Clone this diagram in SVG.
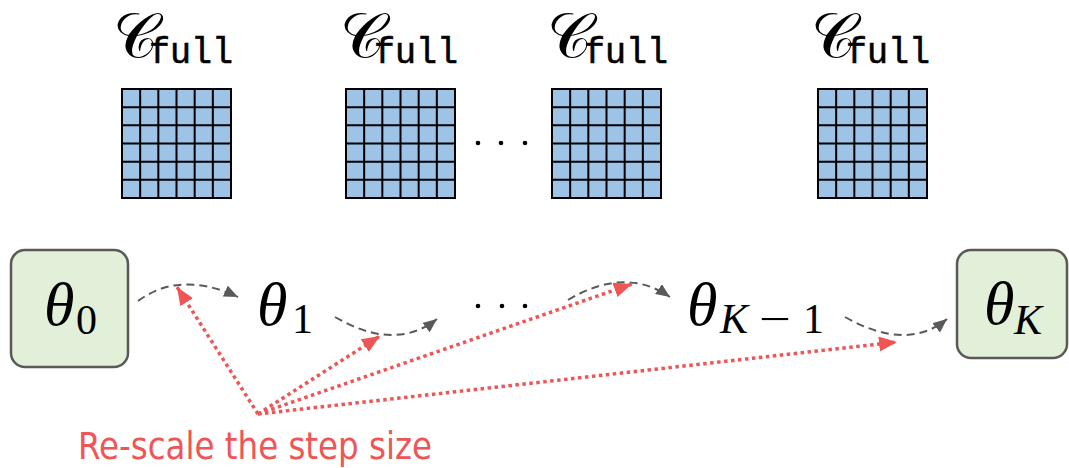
<svg xmlns="http://www.w3.org/2000/svg" xmlns:xlink="http://www.w3.org/1999/xlink" width="1069" height="468" viewBox="0 0 1069 468">
<style>
text{font-weight:normal}
.cal{font-family:"DejaVu Serif","Liberation Serif",serif;font-size:62px;fill:#000}
.mono{font-family:"Liberation Mono","Courier New",monospace;font-size:36px;fill:#000;stroke:#000;stroke-width:0.6}
.th{font-family:"Liberation Serif","Times New Roman",serif;font-style:italic;font-size:62px;fill:#000}
.sub{font-family:"Liberation Serif","Times New Roman",serif;font-style:normal;font-size:42px;fill:#000}
.subi{font-family:"Liberation Serif","Times New Roman",serif;font-style:italic;font-size:42px;fill:#000}
.box{fill:#e2efd9;stroke:#595959;stroke-width:2.5}
.gl{stroke:#000;stroke-width:2}
.dash{fill:none;stroke:#595959;stroke-width:2;stroke-dasharray:8 5}
.dot{fill:none;stroke:#ef5555;stroke-width:3.5;stroke-dasharray:3.5 3.5}
.lbl{font-family:"DejaVu Sans","Liberation Sans",sans-serif;font-size:37px;fill:#ef5555}
</style>
<defs>
<marker id="ag" markerUnits="userSpaceOnUse" markerWidth="16" markerHeight="14" refX="14" refY="6" orient="auto"><path d="M0,0 L14,6 L0,12 z" fill="#595959"/></marker>
<marker id="ar" markerUnits="userSpaceOnUse" markerWidth="20" markerHeight="16" refX="18" refY="7.5" orient="auto"><path d="M0,0 L18,7.5 L0,15 z" fill="#ef5555"/></marker>
<g id="grid">
<rect x="0" y="0" width="109" height="109" fill="#9dc3e6" stroke="#000" stroke-width="2"/>
<path class="gl" d="M18.17,0V109M36.33,0V109M54.5,0V109M72.67,0V109M90.83,0V109M0,18.17H109M0,36.33H109M0,54.5H109M0,72.67H109M0,90.83H109"/>
</g>
</defs>
<rect width="1069" height="468" fill="#fff"/>
<g id="cfull1"><text class="cal" x="113" y="57">𝒞</text><text class="mono" x="149" y="63" textLength="84" lengthAdjust="spacingAndGlyphs">full</text><use xlink:href="#grid" x="122" y="89"/></g>
<g id="cfull2"><text class="cal" x="340" y="57">𝒞</text><text class="mono" x="374" y="63" textLength="84" lengthAdjust="spacingAndGlyphs">full</text><use xlink:href="#grid" x="346" y="89"/></g>
<g id="cfull3"><text class="cal" x="547" y="57">𝒞</text><text class="mono" x="584" y="63" textLength="84" lengthAdjust="spacingAndGlyphs">full</text><use xlink:href="#grid" x="552" y="89"/></g>
<g id="cfull4"><text class="cal" x="811" y="57">𝒞</text><text class="mono" x="846" y="63" textLength="84" lengthAdjust="spacingAndGlyphs">full</text><use xlink:href="#grid" x="818" y="89"/></g>
<g id="dots-top"><circle cx="478" cy="143" r="2.3"/><circle cx="501" cy="143" r="2.3"/><circle cx="525" cy="143" r="2.3"/></g>
<g id="theta0"><rect class="box" x="11" y="250" width="117" height="117" rx="14"/><text class="th" x="44" y="325">θ</text><text class="sub" x="76" y="334">0</text></g>
<g id="theta1"><text class="th" x="257" y="325">θ</text><text class="sub" x="292" y="333">1</text></g>
<g id="dots-bottom"><circle cx="478" cy="306" r="2.3"/><circle cx="502" cy="306" r="2.3"/><circle cx="525" cy="306" r="2.3"/></g>
<g id="thetaK1"><text class="th" x="687" y="325">θ</text><text class="subi" x="720" y="333">K</text><text class="sub" x="759" y="333" textLength="32" lengthAdjust="spacingAndGlyphs">−</text><text class="sub" x="803" y="333">1</text></g>
<g id="thetaK"><rect class="box" x="957" y="250" width="110" height="108" rx="14"/><text class="th" x="984" y="324">θ</text><text class="subi" x="1014" y="334">K</text></g>
<g id="connectors">
<path class="dash" d="M138,301 Q180,270 238,297" marker-end="url(#ag)"/>
<path class="dash" d="M335,317 Q395,352 437,319" marker-end="url(#ag)"/>
<path class="dash" d="M568,300 Q625,266 670,297" marker-end="url(#ag)"/>
<path class="dash" d="M845,317 Q907,352 947,319" marker-end="url(#ag)"/>
<path class="dot" d="M258,414 L177,287" marker-end="url(#ar)"/>
<path class="dot" d="M258,414 L380,336" marker-end="url(#ar)"/>
<path class="dot" d="M258,414 L632,284" marker-end="url(#ar)"/>
<path class="dot" d="M258,414 L897,342" marker-end="url(#ar)"/>
</g>
<g id="label"><text class="lbl" x="78" y="459" textLength="354" lengthAdjust="spacingAndGlyphs">Re-scale the step size</text></g>
</svg>
